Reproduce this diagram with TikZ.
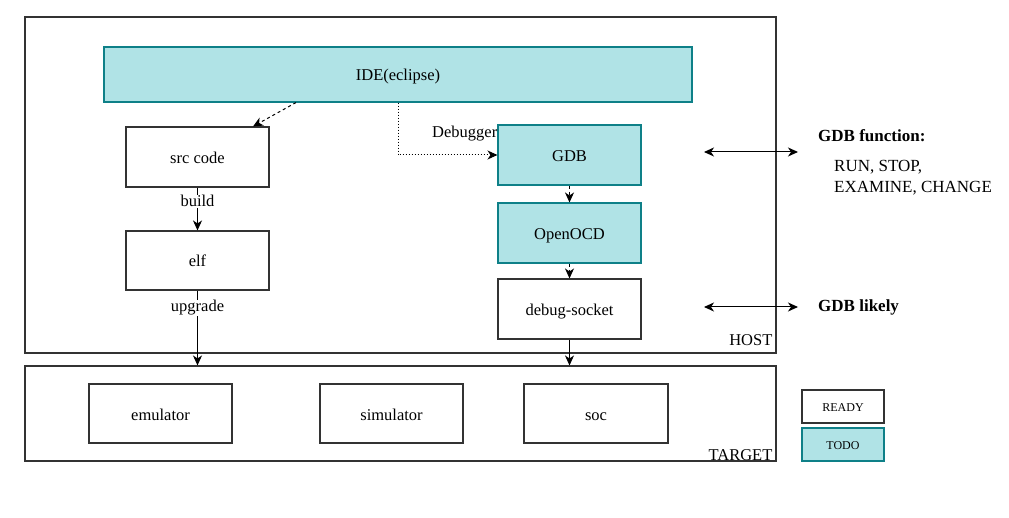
\documentclass[tikz,border=0pt]{standalone}
\usepackage{fontspec}
\setmainfont{Liberation Serif}
\usetikzlibrary{arrows.meta}
\definecolor{todofill}{HTML}{B0E3E6}
\definecolor{todoline}{HTML}{0E8088}
\definecolor{boxline}{HTML}{333333}
\tikzset{
  x=1pt,y=-1pt,
  every node/.style={font=\fontsize{16.5}{20}\selectfont},
  boxtext/.style={text height=13.5pt,text depth=0.5pt},
  plain/.style={boxtext,draw=boxline,line width=1.1pt,fill=white,minimum width=143pt,minimum height=60pt,inner sep=0pt},
  todo/.style={boxtext,draw=todoline,line width=1.1pt,fill=todofill,minimum width=143pt,minimum height=60pt,inner sep=0pt},
  frame/.style={draw=boxline,line width=1.1pt,inner sep=0pt},
  tip/.tip={Stealth[length=10pt,width=9pt,inset=3pt]},
  arr/.style={line width=1pt,-tip},
  dbl/.style={line width=1pt,tip-tip},
  lbl/.style={fill=white,inner sep=1pt},
  small/.style={font=\fontsize{12}{14}\selectfont,text height=9.5pt,text depth=0.5pt},
  side/.style={font=\fontsize{17}{21}\selectfont,inner sep=0pt}
}
\begin{document}
\begin{tikzpicture}
\useasboundingbox (0,0) rectangle (1009,518);
% frames
\node[frame,minimum width=751pt,minimum height=336pt] (host) at (400.5,185) {};
\node[anchor=base east,inner sep=0pt] (hostlbl) at ([shift={(-4,-8)}]host.south east) {HOST};
\node[frame,minimum width=751pt,minimum height=95pt] (target) at (400.5,413.5) {};
\node[anchor=base east,inner sep=0pt] (targetlbl) at ([shift={(-4,-1)}]target.south east) {TARGET};
% boxes
\node[todo,minimum width=588pt,minimum height=55pt] (ide) at (398,74.5) {IDE(eclipse)};
\node[plain] (src) at (197.5,157) {src code};
\node[plain,minimum height=59pt] (elf) at (197.5,260.5) {elf};
\node[todo] (gdb) at (569.5,155) {GDB};
\node[todo] (ocd) at (569.5,233) {OpenOCD};
\node[plain] (sock) at (569.5,309) {debug-socket};
\node[plain,minimum height=59pt] (emu) at (160.5,413.5) {emulator};
\node[plain,minimum height=59pt] (sim) at (391.5,413.5) {simulator};
\node[plain,minimum width=144pt,minimum height=59pt] (soc) at (596,413.5) {soc};
% legend
\node[plain,minimum width=82pt,minimum height=33pt,small] (ready) at (843,406.5) {READY};
\node[todo,minimum width=82pt,minimum height=33pt,small] (todo) at (843,444.5) {TODO};
% connectors
\draw[arr,dashed] (ide.south -| 296,0) -- (src.north -| 253,0);
\draw[arr,dotted] (ide.south -| 398,0) |- (gdb.west);
\node[anchor=base east,inner sep=0pt] (dbg) at (gdb.west |- 0,138) {Debugger};
\draw[arr,dashed] (gdb) -- (ocd);
\draw[arr,dashed] (ocd) -- (sock);
\draw[arr] (sock) -- (sock.south |- target.north);
\draw[arr] (src) -- (elf);
\node[lbl,anchor=base,inner sep=0.5pt] (buildlbl) at (197.5,207) {build};
\draw[arr] (elf) -- (elf.south |- target.north);
\node[lbl,anchor=base,inner sep=0.5pt] (uplbl) at (197.5,312) {upgrade};
% right side
\coordinate (a1) at (704,152);
\coordinate (b1) at (798,152);
\coordinate (a2) at (704,307);
\coordinate (b2) at (798,307);
\draw[dbl] (a1) -- (b1);
\draw[dbl] (a2) -- (b2);
\node[side,anchor=base west,font=\fontsize{17}{21}\selectfont\bfseries] (gf) at (818,141.5) {GDB function:};
\node[side,anchor=north west,align=left] (gfl) at (834,160) {RUN, STOP,\\EXAMINE, CHANGE};
\node[side,anchor=base west,font=\fontsize{17}{21}\selectfont\bfseries] (gl) at (818,311.5) {GDB likely};
\end{tikzpicture}
\end{document}
